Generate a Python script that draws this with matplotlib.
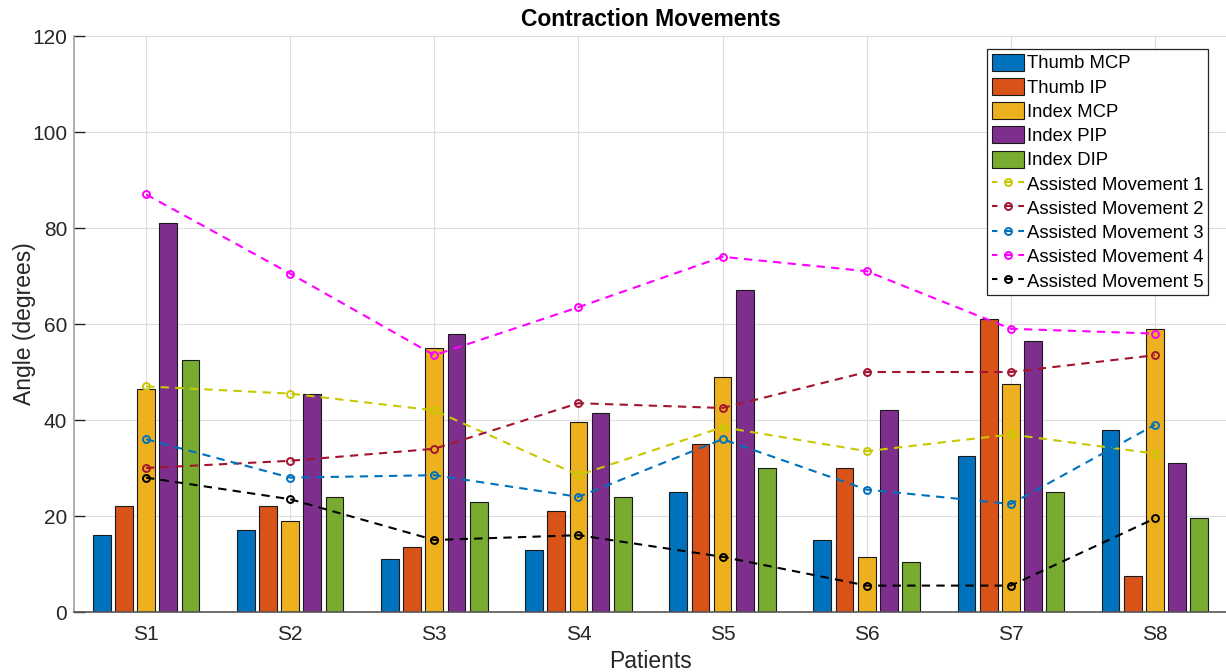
import numpy as np
import matplotlib.pyplot as plt
from matplotlib.lines import Line2D

plt.rcParams['font.family'] = ['Liberation Sans', 'DejaVu Sans']

# Patients and joint angles (degrees)
patients = ['S1', 'S2', 'S3', 'S4', 'S5', 'S6', 'S7', 'S8']

joint_names = ['Thumb MCP', 'Thumb IP', 'Index MCP', 'Index PIP', 'Index DIP']
thumb_mcp = [16, 17, 11, 13, 25, 15, 32.5, 38]
thumb_ip = [22, 22, 13.5, 21, 35, 30, 61, 7.5]
index_mcp = [46.5, 19, 55, 39.5, 49, 11.5, 47.5, 59]
index_pip = [81, 45.5, 58, 41.5, 67, 42, 56.5, 31]
index_dip = [52.5, 24, 23, 24, 30, 10.5, 25, 19.5]

# Assisted movements
assisted_names = ['Assisted Movement 1', 'Assisted Movement 2', 'Assisted Movement 3',
                  'Assisted Movement 4', 'Assisted Movement 5']
assisted_1 = [47, 45.5, 42, 28.5, 38.5, 33.5, 37, 33]
assisted_2 = [30, 31.5, 34, 43.5, 42.5, 50, 50, 53.5]
assisted_3 = [36, 28, 28.5, 24, 36, 25.5, 22.5, 39]
assisted_4 = [87, 70.5, 53.5, 63.5, 74, 71, 59, 58]
assisted_5 = [28, 23.5, 15, 16, 11.5, 5.5, 5.5, 19.5]

bar_colors = ['#0072BD', '#D95319', '#EDB120', '#7E2F8E', '#77AC30']
line_colors = ['#C8C800', '#A2142F', '#0072BD', '#FF00FF', '#000000']

joints = [thumb_mcp, thumb_ip, index_mcp, index_pip, index_dip]
assisted = [assisted_1, assisted_2, assisted_3, assisted_4, assisted_5]

fig = plt.figure(figsize=(12.26, 6.72), dpi=100)
ax = fig.add_axes([74 / 1226, 1 - 612 / 672, 1153 / 1226, 576 / 672])

x = np.arange(1, len(patients) + 1)
n = len(joints)
group_w = min(0.8, n / (n + 1.5))
step = group_w / n
bar_w = 0.8 * step

handles = []
for j, (vals, name, c) in enumerate(zip(joints, joint_names, bar_colors)):
    b = ax.bar(x + (j - (n - 1) / 2) * step, vals, width=bar_w, color=c,
               edgecolor='#1a1a1a', linewidth=0.8, label=name, zorder=2)
    handles.append(b)

for vals, name, c in zip(assisted, assisted_names, line_colors):
    ax.plot(x, vals, linestyle='--', color=c, linewidth=1.5, dashes=(4, 3),
            marker='o', markersize=5, markerfacecolor='none',
            markeredgewidth=1.4, label=name, zorder=3)
    # legend entry drawn as "- o -"
    handles.append(Line2D([], [], color=c, linewidth=1.5, linestyle=(0.6, (3.2, 3.4)),
                          marker='o', markersize=5, markerfacecolor='none',
                          markeredgewidth=1.4))

ax.set_xlim(0.5, 8.5)
ax.set_ylim(0, 120)
ax.set_xticks(x)
ax.set_xticklabels(patients)
ax.set_yticks(np.arange(0, 121, 20))

ax.grid(True, color='#dedede', linewidth=0.8, zorder=0)
ax.set_axisbelow(True)

for s in ['top', 'right']:
    ax.spines[s].set_visible(False)
ax.spines['left'].set_color('#a0a0a0')
ax.spines['bottom'].set_color('#555555')
ax.spines['left'].set_linewidth(1.2)
ax.spines['bottom'].set_linewidth(1.2)

ax.tick_params(axis='y', direction='in', length=8, width=1, color='#262626',
               labelsize=15, labelcolor='#262626', pad=5)
ax.tick_params(axis='x', length=0, labelsize=15, labelcolor='#262626', pad=9)

ax.set_xlabel('Patients', fontsize=16.5, color='#262626', labelpad=5)
ax.set_ylabel('Angle (degrees)', fontsize=16.5, color='#262626', labelpad=-3)
ax.set_title('Contraction Movements', fontsize=16.5, fontweight='bold', pad=7)

leg = ax.legend(handles=handles, labels=joint_names + assisted_names,
                loc='upper right', bbox_to_anchor=(1208 / 1226, 1 - 49 / 672),
                bbox_transform=fig.transFigure, borderaxespad=0,
                fontsize=13.3, fancybox=False, framealpha=1,
                edgecolor='#262626', handlelength=1.75, handleheight=1.05,
                handletextpad=0.15, labelspacing=0.29, borderpad=0.25)
leg.get_frame().set_linewidth(0.9)

plt.savefig('out.png', dpi=100)
